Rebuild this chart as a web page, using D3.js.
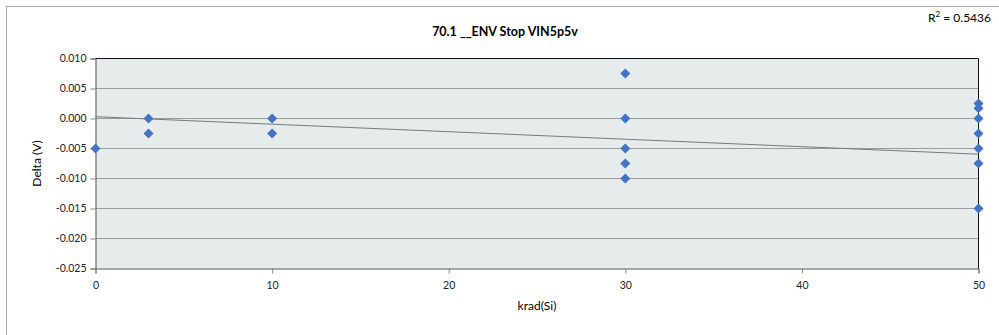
<!DOCTYPE html>
<html>
<head>
<meta charset="utf-8">
<script src="https://cdn.jsdelivr.net/npm/d3@7"></script>
<style>
  body { margin: 0; background: #fff; }
  text { font-family: Lato, "Open Sans", sans-serif; }
</style>
</head>
<body>
<div id="viz"></div>
<script>
// data
var krad = [0, 3, 3, 10, 10, 30, 30, 30, 30, 30, 50, 50, 50, 50, 50, 50, 50]
var delta = [-0.005, 0.0, -0.0025, 0.0, -0.0025, 0.0075, 0.0, -0.005, -0.0075, -0.010,
             0.0025, 0.0017, 0.0, -0.0025, -0.005, -0.0075, -0.015]
var yTicks = [0.010, 0.005, 0.000, -0.005, -0.010, -0.015, -0.020, -0.025]
var xTicks = [0, 10, 20, 30, 40, 50]
// trendline shown in the chart (intercept, slope)
var trendIntercept = 0.0003
var trendSlope = -0.000125
var rSquared = '0.5436'

const w = 999, h = 335

var svg = d3.select('#viz').append('svg')
  .attr('width', w).attr('height', h)

// outer chart frame
svg.append('rect')
  .attr('x', 6.5).attr('y', 6.5)
  .attr('width', 1000).attr('height', 400)
  .attr('fill', 'white')
  .attr('stroke', '#a6a6a6')

var x = d3.scaleLinear().domain([0, 50]).range([95.5, 978.5])
var y = d3.scaleLinear().domain([-0.025, 0.010]).range([268.5, 58.5])

// plot area
svg.append('rect')
  .attr('x', x(0)).attr('y', y(0.010))
  .attr('width', x(50) - x(0)).attr('height', y(-0.025) - y(0.010))
  .attr('fill', '#e6ebeb')

// gridlines
svg.append('g').selectAll('line')
  .data(yTicks.slice(1, -1))
  .enter().append('line')
  .attr('x1', x(0)).attr('x2', x(50))
  .attr('y1', d => y(d)).attr('y2', d => y(d))
  .attr('stroke', '#9c9c9c')

// axes
var yAxis = svg.append('g')
  .attr('transform', 'translate(' + x(0) + ',0)')
  .call(d3.axisLeft(y).tickValues(yTicks).tickFormat(d3.format('.3f')).tickSize(5).tickPadding(4))
yAxis.select('.domain').attr('stroke', '#555')
yAxis.selectAll('.tick line').attr('stroke', '#888')
yAxis.selectAll('.tick text').attr('font-size', 10.5).attr('fill', '#222')
  .text(d => d3.format('.3f')(d).replace('−', '-'))

var xAxis = svg.append('g')
  .attr('transform', 'translate(0,' + y(-0.025) + ')')
  .call(d3.axisBottom(x).tickValues(xTicks).tickSize(5).tickPadding(8))
xAxis.select('.domain').attr('stroke', '#555')
xAxis.selectAll('.tick line').attr('stroke', '#888')
xAxis.selectAll('.tick text').attr('font-size', 10.5).attr('fill', '#222')

// plot border top/right
svg.append('path')
  .attr('d', 'M' + x(0) + ',' + y(0.010) + 'H' + x(50) + 'V' + y(-0.025))
  .attr('fill', 'none').attr('stroke', '#111')

// trendline
svg.append('line')
  .attr('x1', x(0)).attr('y1', y(trendIntercept))
  .attr('x2', x(50)).attr('y2', y(trendIntercept + trendSlope * 50))
  .attr('stroke', '#7a7a7a').attr('stroke-width', 1)

// points
var pts = krad.map((k, i) => ({ k: k, v: delta[i] }))
svg.append('g').selectAll('path')
  .data(pts)
  .enter().append('path')
  .attr('d', 'M0,-5L5,0L0,5L-5,0Z')
  .attr('transform', d => 'translate(' + x(d.k) + ',' + y(d.v) + ')')
  .attr('fill', '#4472c4')

// texts
svg.append('text')
  .attr('x', 505).attr('y', 36)
  .attr('text-anchor', 'middle')
  .attr('font-size', 12.5).attr('font-weight', 'bold')
  .text('70.1 __ENV Stop VIN5p5v')

var r2 = svg.append('text')
  .attr('x', 991).attr('y', 22)
  .attr('text-anchor', 'end')
  .attr('font-size', 12)
r2.append('tspan').text('R')
r2.append('tspan').attr('dy', -5).attr('font-size', 8).text('2')
r2.append('tspan').attr('dy', 5).text(' = ' + rSquared)

svg.append('text')
  .attr('x', (x(0) + x(50)) / 2).attr('y', 310)
  .attr('text-anchor', 'middle')
  .attr('font-size', 12)
  .text('krad(Si)')

svg.append('text')
  .attr('transform', 'translate(41,' + ((y(0.010) + y(-0.025)) / 2) + ') rotate(-90)')
  .attr('text-anchor', 'middle')
  .attr('font-size', 12)
  .text('Delta (V)')
</script>
</body>
</html>
